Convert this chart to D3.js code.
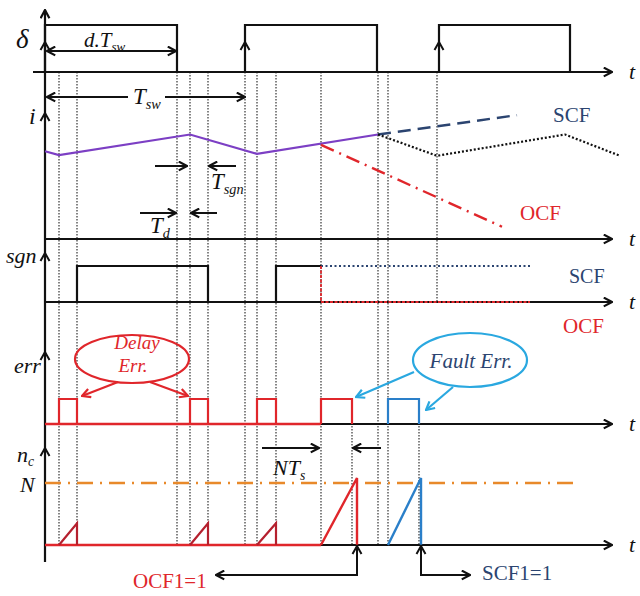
<!DOCTYPE html>
<html><head><meta charset="utf-8">
<script src="https://cdn.jsdelivr.net/npm/d3@7/dist/d3.min.js"></script>
<style>
html,body{margin:0;padding:0;background:#fff;}
svg{display:block;font-family:"Liberation Serif","DejaVu Serif",serif;}
</style></head>
<body>
<svg id="c" width="640" height="596"></svg>
<script>
// ---------- data (time in units of T_sw, values normalised per panel) ----------
const deltaPulses = [[0, 0.66], [1.0, 1.66], [1.97, 2.625]];
const guideTimes = [0.07, 0.16, 0.66, 0.725, 0.815, 1.0, 1.06, 1.155, 1.38, 1.665, 1.715];
const guideUpper = [1.96];           // delta .. sgn only
const guideLower = [1.535, 1.87];    // err .. n_c only
const currentNormal = [[0, 0.68], [0.07, 0.65], [0.725, 0.81], [1.06, 0.66], [1.665, 0.81]];
const currentSCF = [[1.665, 0.81], [2.36, 0.96]];
const currentSCFreal = [[1.665, 0.81], [1.96, 0.645], [2.6, 0.81], [2.875, 0.645]];
const currentOCF = [[1.38, 0.73], [2.285, 0.095]];
const sgnPulses = [[0.16, 0.815]];
const sgnLast = [[1.155, 0], [1.155, 1], [1.38, 1]];
const sgnSCF = [[1.38, 1], [2.435, 1]];
const sgnOCF = [[1.38, 1], [1.38, 0], [2.425, 0]];
const errDelayPulses = [[0.07, 0.16], [0.725, 0.815], [1.06, 1.155]];
const errOCFPulse = [[1.38, 1.535]];
const errSCFPulse = [[1.715, 1.87]];
const ncSmall = [[0.07, 0.16, 0.35], [0.725, 0.815, 0.35], [1.06, 1.155, 0.35]];
const ncOCF = [[1.38, 1.56, 1.08]];
const ncSCF = [[1.715, 1.88, 1.08]];
const ncLevelN = 1.0;
const ncLevelEnd = 2.64;

const svg = d3.select("#c");
const x = d3.scaleLinear().domain([0, 2.835]).range([45, 612]);
const yD = d3.scaleLinear().domain([0, 1]).range([72, 25]);
const yI = d3.scaleLinear().domain([0, 1]).range([239, 110]);
const yS = d3.scaleLinear().domain([0, 1]).range([302, 266]);
const yE = d3.scaleLinear().domain([0, 1]).range([424, 399]);
const yN = d3.scaleLinear().domain([0, 1]).range([545, 483]);

const RED = "#e0262b", DRED = "#b5202e", NAVY = "#2b4470", PURPLE = "#7c3fc4",
      BLUE = "#2a7fc9", LBLUE = "#2aa8e0", ORANGE = "#e8892a";

// markers
const defs = svg.append("defs");
function marker(id, color) {
  defs.append("marker").attr("id", id).attr("viewBox", "0 0 10 10")
    .attr("refX", 9).attr("refY", 5).attr("markerWidth", 11).attr("markerHeight", 11)
    .attr("markerUnits", "userSpaceOnUse").attr("orient", "auto")
    .append("path").attr("d", "M1.5,1 L9,5 L1.5,9").attr("fill", "none")
    .attr("stroke", color).attr("stroke-width", 2);
}
marker("ak", "#111"); marker("ar", RED); marker("ab", LBLUE);

const line = d3.line();
function poly(pts, yS_) { return line(pts.map(p => [x(p[0]), yS_(p[1])])); }
function pulsePath(a, b, yS_) { return poly([[a, 0], [a, 1], [b, 1], [b, 0]], yS_); }

// guide dotted lines
const gGuide = svg.append("g").attr("stroke", "#333").attr("stroke-width", 1.2)
  .attr("stroke-dasharray", "1.6,1.4");
guideTimes.forEach(t => gGuide.append("line").attr("x1", x(t)).attr("x2", x(t)).attr("y1", yD(0)).attr("y2", yN(0)));
guideUpper.forEach(t => gGuide.append("line").attr("x1", x(t)).attr("x2", x(t)).attr("y1", yD(0)).attr("y2", yS(0)));
guideLower.forEach(t => gGuide.append("line").attr("x1", x(t)).attr("x2", x(t)).attr("y1", yE(1)).attr("y2", yN(0)));

// horizontal axes
const axes = [[yD, 33], [yI, 45], [yS, 45], [yE, 45], [yN, 45]];
axes.forEach(([ys, x0]) => {
  svg.append("line").attr("x1", x0).attr("x2", x(2.835)).attr("y1", ys(0)).attr("y2", ys(0))
    .attr("stroke", "#111").attr("stroke-width", 2.2).attr("marker-end", "url(#ak)");
  svg.append("text").attr("x", 629).attr("y", ys(0) + 7).attr("font-style", "italic")
    .attr("font-size", 22).attr("fill", "#111").text("t");
});
// vertical axis
svg.append("line").attr("x1", 45).attr("x2", 45).attr("y1", 562).attr("y2", 10)
  .attr("stroke", "#111").attr("stroke-width", 2.2).attr("marker-end", "url(#ak)");
function upHead(px, py, color) {
  svg.append("path").attr("d", `M${px - 4.5},${py + 8} L${px},${py} L${px + 4.5},${py + 8}`)
    .attr("fill", "none").attr("stroke", color || "#111").attr("stroke-width", 2);
}
[42, 113, 253, 352, 448].forEach(py => upHead(45, py));

// delta
deltaPulses.forEach(([a, b]) => svg.append("path").attr("d", pulsePath(a, b, yD))
  .attr("fill", "none").attr("stroke", "#111").attr("stroke-width", 2.2));
deltaPulses.slice(1).forEach(([a]) => upHead(x(a), 42));

// current
svg.append("path").attr("d", poly(currentNormal, yI)).attr("fill", "none").attr("stroke", PURPLE).attr("stroke-width", 2.2);
svg.append("path").attr("d", poly(currentSCF, yI)).attr("fill", "none").attr("stroke", NAVY).attr("stroke-width", 2.4).attr("stroke-dasharray", "13,7");
svg.append("path").attr("d", poly(currentSCFreal, yI)).attr("fill", "none").attr("stroke", "#111").attr("stroke-width", 2.2).attr("stroke-dasharray", "2,2");
svg.append("path").attr("d", poly(currentOCF, yI)).attr("fill", "none").attr("stroke", RED).attr("stroke-width", 2.4).attr("stroke-dasharray", "14,6,2,6");

// sgn
sgnPulses.forEach(([a, b]) => svg.append("path").attr("d", pulsePath(a, b, yS)).attr("fill", "none").attr("stroke", "#111").attr("stroke-width", 2.2));
svg.append("path").attr("d", poly(sgnLast, yS)).attr("fill", "none").attr("stroke", "#111").attr("stroke-width", 2.2);
svg.append("path").attr("d", poly(sgnSCF, yS)).attr("fill", "none").attr("stroke", NAVY).attr("stroke-width", 1.8).attr("stroke-dasharray", "2,2.5");
svg.append("path").attr("d", poly(sgnOCF, yS)).attr("fill", "none").attr("stroke", RED).attr("stroke-width", 1.8).attr("stroke-dasharray", "3,1.5");

// err
svg.append("path").attr("d", poly([[0, 0], [1.38, 0]], yE)).attr("fill", "none").attr("stroke", RED).attr("stroke-width", 2.4);
errDelayPulses.concat(errOCFPulse).forEach(([a, b]) => svg.append("path").attr("d", pulsePath(a, b, yE)).attr("fill", "none").attr("stroke", RED).attr("stroke-width", 2.2));
errSCFPulse.forEach(([a, b]) => svg.append("path").attr("d", pulsePath(a, b, yE)).attr("fill", "none").attr("stroke", BLUE).attr("stroke-width", 2.2));

// n_c
svg.append("path").attr("d", poly([[0, ncLevelN], [ncLevelEnd, ncLevelN]], yN)).attr("fill", "none").attr("stroke", ORANGE).attr("stroke-width", 2.4).attr("stroke-dasharray", "16,7,2,7");
svg.append("path").attr("d", poly([[0, 0], [1.38, 0]], yN)).attr("fill", "none").attr("stroke", RED).attr("stroke-width", 2.4);
function tri(a, b, h) { return poly([[a, 0], [b, h], [b, 0]], yN); }
ncSmall.forEach(([a, b, h]) => svg.append("path").attr("d", tri(a, b, h)).attr("fill", "none").attr("stroke", DRED).attr("stroke-width", 2.2));
ncOCF.forEach(([a, b, h]) => svg.append("path").attr("d", tri(a, b, h)).attr("fill", "none").attr("stroke", RED).attr("stroke-width", 2.4));
ncSCF.forEach(([a, b, h]) => svg.append("path").attr("d", tri(a, b, h)).attr("fill", "none").attr("stroke", BLUE).attr("stroke-width", 2.4));

// dimension arrows
function arrow(x1, y1, x2, y2, m, color, w) {
  svg.append("line").attr("x1", x1).attr("y1", y1).attr("x2", x2).attr("y2", y2)
    .attr("stroke", color || "#111").attr("stroke-width", w || 2).attr("marker-end", `url(#${m || "ak"})`);
}
arrow(110, 51, x(0) + 2, 51); arrow(110, 51, x(0.655), 51);
arrow(128, 97, x(0) + 2, 97); arrow(165, 97, x(1.0), 97);
arrow(155, 166, x(0.725) - 3, 166); arrow(236, 166, x(0.815) + 1, 166);
arrow(140, 213, x(0.66) - 1, 213); arrow(217, 213, x(0.725) + 1, 213);
arrow(262, 448, x(1.38) - 2, 448); arrow(381, 448, x(1.535) + 1, 448);
svg.append("path").attr("d", `M${x(1.56)},547 L${x(1.56)},575 L${216},575`).attr("fill", "none")
  .attr("stroke", "#111").attr("stroke-width", 2).attr("marker-end", "url(#ak)");
upHead(x(1.56), 546);
svg.append("path").attr("d", `M${x(1.88)},547 L${x(1.88)},575 L${470},575`).attr("fill", "none")
  .attr("stroke", "#111").attr("stroke-width", 2).attr("marker-end", "url(#ak)");
upHead(x(1.88), 546);

// callouts
svg.append("ellipse").attr("cx", 132).attr("cy", 359).attr("rx", 57).attr("ry", 24)
  .attr("fill", "none").attr("stroke", RED).attr("stroke-width", 2.2);
arrow(118, 382, 82, 396, "ar", RED, 2.2); arrow(150, 382, 188, 396, "ar", RED, 2.2);
svg.append("ellipse").attr("cx", 470).attr("cy", 360).attr("rx", 57).attr("ry", 27)
  .attr("fill", "none").attr("stroke", LBLUE).attr("stroke-width", 2.2);
arrow(414, 372, 356, 397, "ab", LBLUE, 2.2); arrow(453, 387, 426, 410, "ab", LBLUE, 2.2);

// text helpers
function txt(px, py, s, opt) {
  opt = opt || {};
  const t = svg.append("text").attr("x", px).attr("y", py)
    .attr("font-size", opt.size || 21).attr("fill", opt.color || "#111")
    .attr("font-style", opt.italic ? "italic" : null)
    .attr("text-anchor", opt.anchor || "start");
  if (opt.sub) {
    t.append("tspan").text(s);
    t.append("tspan").attr("dy", opt.subDy || 5).attr("font-size", (opt.size || 21) * 0.62).text(opt.sub);
  } else t.text(s);
  return t;
}
txt(16, 48, "δ", { italic: true, size: 27 });
txt(84, 47, "d.T", { italic: true, size: 21, sub: "sw", subDy: 4 });
txt(133, 104, "T", { italic: true, size: 23, sub: "sw", subDy: 5 });
txt(29, 124, "i", { italic: true, size: 24 });
txt(211, 189, "T", { italic: true, size: 23, sub: "sgn", subDy: 5 });
txt(150, 233, "T", { italic: true, size: 23, sub: "d", subDy: 5 });
txt(6, 263, "sgn", { italic: true, size: 22 });
txt(14, 373, "err", { italic: true, size: 22 });
txt(17, 462, "n", { italic: true, size: 22, sub: "c", subDy: 4 });
txt(20, 492, "N", { italic: true, size: 22 });
txt(273, 475, "NT", { italic: true, size: 22, sub: "s", subDy: 5 });
txt(553, 122, "SCF", { color: NAVY, size: 21 });
txt(520, 220, "OCF", { color: RED, size: 21 });
txt(569, 283, "SCF", { color: NAVY, size: 20 });
txt(563, 333, "OCF", { color: RED, size: 21 });
txt(137, 349, "Delay", { color: RED, size: 19, italic: true, anchor: "middle" });
txt(133, 372, "Err.", { color: RED, size: 19, italic: true, anchor: "middle" });
txt(471, 368, "Fault Err.", { color: NAVY, size: 21, italic: true, anchor: "middle" });
txt(133, 588, "OCF1=1", { color: RED, size: 21 });
txt(482, 580, "SCF1=1", { color: NAVY, size: 21 });
</script>
</body></html>
